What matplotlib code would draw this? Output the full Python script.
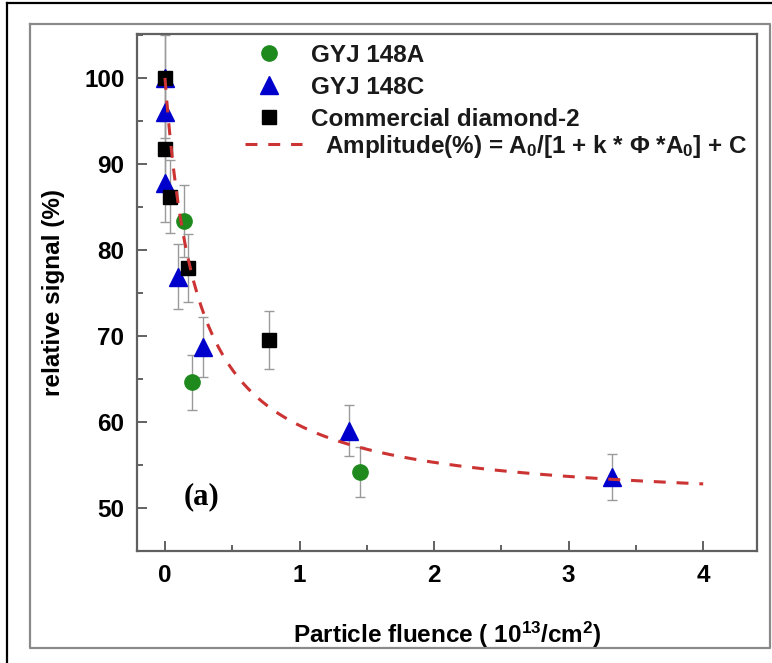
import numpy as np
import matplotlib
matplotlib.use("Agg")
import matplotlib.pyplot as plt
from matplotlib.lines import Line2D
from matplotlib.ticker import MultipleLocator

plt.rcParams["font.family"] = ["Liberation Sans", "DejaVu Sans"]
plt.rcParams["font.weight"] = "bold"
plt.rcParams["mathtext.fontset"] = "custom"
plt.rcParams["mathtext.rm"] = "Liberation Sans:bold"
plt.rcParams["mathtext.bf"] = "Liberation Sans:bold"
plt.rcParams["mathtext.it"] = "Liberation Sans:bold"
plt.rcParams["lines.scale_dashes"] = False

# GYJ 148A
fluence_a = [0.14, 0.20, 1.45]
signal_a = [83.4, 64.6, 54.2]
err_a = [4.2, 3.2, 2.9]

# GYJ 148C
fluence_c = [0.0, 0.0, 0.0, 0.10, 0.28, 1.37, 3.32]
signal_c = [100.0, 96.0, 87.8, 76.9, 68.7, 59.0, 53.6]
err_c = [7.0, 4.0, 4.5, 3.8, 3.5, 3.0, 2.7]

# Commercial diamond-2
fluence_d = [0.0, 0.0, 0.04, 0.17, 0.77]
signal_d = [100.0, 91.7, 86.2, 77.9, 69.5]
err_d = [5.0, 4.0, 4.2, 3.9, 3.4]

# Fit parameters: Amplitude = A0 / (1 + k*phi*A0) + C
fit_A0 = 50.0
fit_k = 0.0843
fit_C = 50.0
fit_range = (0.0, 4.0)

x_ticks = [0, 1, 2, 3, 4]
y_ticks = [50, 60, 70, 80, 90, 100]

W, H = 772, 663
fig = plt.figure(figsize=(W / 100, H / 100), dpi=100)


def px(x, y):
    return x / W, 1 - y / H


# outer frames
fx, fy = px(7, 3)
fig.add_artist(Line2D([fx, 1.0], [fy, fy], color="black", lw=1.6))
fig.add_artist(Line2D([fx, fx], [fy, 0.0], color="black", lw=1.6))
x0, y0 = px(30, 648)
x1, y1 = px(770, 24)
fig.add_artist(Line2D([x0, x1, x1, x0, x0], [y1, y1, y0, y0, y1], color="#8a8a8a", lw=1.6))

ax = fig.add_axes([137 / W, 1 - 551 / H, (757 - 137) / W, (551 - 34) / H])
ax.set_xlim(-0.208, 4.40)
ax.set_ylim(45.0, 105.1)

ebkw = dict(fmt="none", ecolor="#9a9a9a", elinewidth=1.0, capsize=3.5, capthick=1.0)
ax.errorbar(fluence_c, signal_c, yerr=err_c, zorder=2, **ebkw)
ax.errorbar(fluence_d, signal_d, yerr=err_d, zorder=2, **ebkw)
ax.errorbar(fluence_a, signal_a, yerr=err_a, zorder=2, **ebkw)

h_c, = ax.plot(fluence_c, signal_c, "^", ms=13, mfc="#0000cc", mec="#0000cc", zorder=3)
h_d, = ax.plot(fluence_d, signal_d, "s", ms=10, mfc="black", mec="black", zorder=4)
h_a, = ax.plot(fluence_a, signal_a, "o", ms=11, mfc="#1e8a1e", mec="#1e8a1e", zorder=5)

phi = np.linspace(fit_range[0], fit_range[1], 300)
amp = fit_A0 / (1 + fit_k * phi * fit_A0) + fit_C
h_fit, = ax.plot(phi, amp, color="#cc3333", lw=2.2, dashes=(8.6, 7.8), zorder=6)

ax.set_xticks(x_ticks)
ax.set_yticks(y_ticks)
ax.xaxis.set_minor_locator(MultipleLocator(0.5))
ax.yaxis.set_minor_locator(MultipleLocator(5))
ax.tick_params(which="both", direction="in", top=False, right=False, color="#555555", width=1.3)
ax.tick_params(which="major", length=7, labelsize=17.5, pad=9)
ax.tick_params(which="minor", length=4)
for s in ax.spines.values():
    s.set_color("#606060")
    s.set_linewidth(1.6)

ax.set_xlabel(r"Particle fluence ( 10$^{13}$/cm$^{2}$)", fontsize=17.5,
              fontweight="bold", labelpad=24)
ax.set_ylabel("relative signal (%)", fontsize=17.5, fontweight="bold", labelpad=14)

ax.text(0.275, 51.3, "(a)", fontsize=22, family="Liberation Serif", weight="bold",
        ha="center", va="center")

# marker legend
leg1 = ax.legend([h_a, h_c, h_d], ["GYJ 148A", "GYJ 148C", "Commercial diamond-2"],
                 loc="upper left", bbox_to_anchor=(0.1332, 1.0232), frameon=False,
                 fontsize=17.5, handlelength=2.3, handletextpad=0.55,
                 labelspacing=0.37, numpoints=1)
for t in leg1.get_texts():
    t.set_color("#1a1a1a")
    t.set_fontweight("bold")
ax.add_artist(leg1)

# fit legend
leg2 = ax.legend([h_fit], [r"Amplitude(%) = A$_{0}$/[1 + k * $\Phi$ *A$_{0}$] + C"],
                 loc="upper left", bbox_to_anchor=(0.139, 0.851), frameon=False,
                 fontsize=17.5, handlelength=2.35, handletextpad=0.95)
for t in leg2.get_texts():
    t.set_color("#1a1a1a")
    t.set_fontweight("bold")

fig.savefig("out.png", dpi=100)
